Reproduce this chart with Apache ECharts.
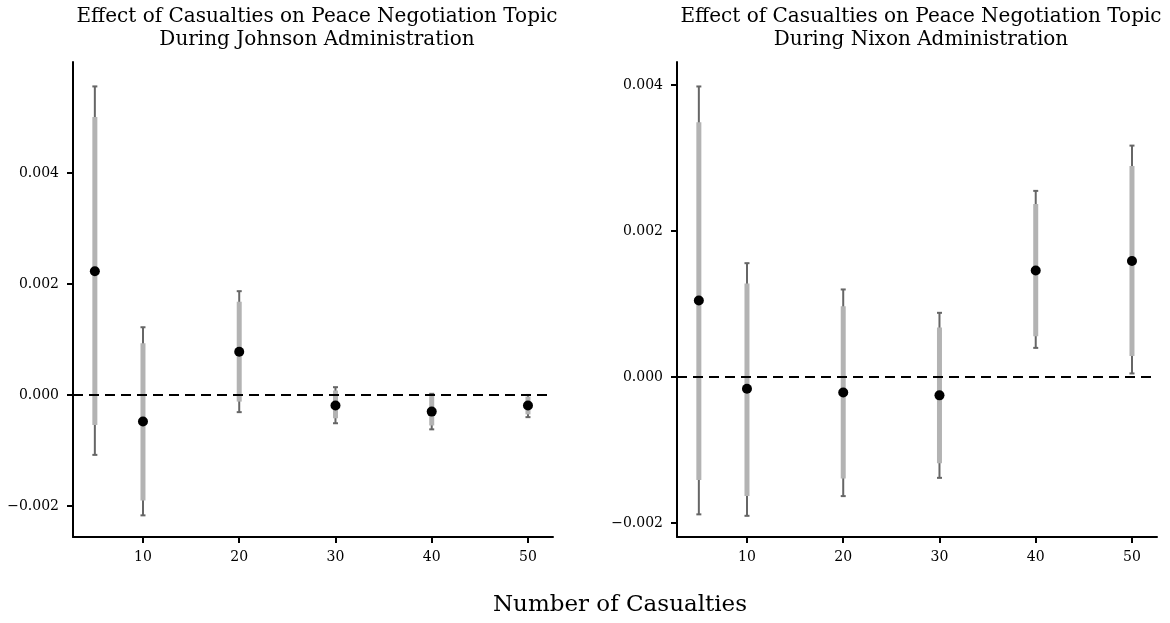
<!DOCTYPE html>
<html>
<head>
<meta charset="utf-8">
<script src="https://cdn.jsdelivr.net/npm/echarts@6/dist/echarts.min.js"></script>
<style>
html,body{margin:0;padding:0;background:#fff;}
#chart{width:1170px;height:623px;}
</style>
</head>
<body>
<div id="chart"></div>
<script>
// ---- data ----
const casualties = [5, 10, 20, 30, 40, 50];
const xTicks = [10, 20, 30, 40, 50];

// Johnson administration
const johnsonEst  = [0.00223, -0.00048, 0.00078, -0.00019, -0.00030, -0.00019];
const johnsonLo95 = [-0.00108, -0.00217, -0.00031, -0.00051, -0.00062, -0.00040];
const johnsonHi95 = [0.00556, 0.00122, 0.00187, 0.00014, 0.00002, 0.00000];
const johnsonLo90 = [-0.00054, -0.00190, -0.00012, -0.00042, -0.00055, -0.00035];
const johnsonHi90 = [0.00501, 0.00093, 0.00168, 0.00008, -0.00002, -0.00003];
const johnsonYTicks = [-0.002, 0.000, 0.002, 0.004];

// Nixon administration
const nixonEst  = [0.00105, -0.00016, -0.00021, -0.00025, 0.00146, 0.00159];
const nixonLo95 = [-0.00188, -0.00190, -0.00163, -0.00138, 0.00040, 0.00005];
const nixonHi95 = [0.00398, 0.00156, 0.00120, 0.00088, 0.00255, 0.00317];
const nixonLo90 = [-0.00141, -0.00163, -0.00139, -0.00118, 0.00056, 0.00029];
const nixonHi90 = [0.00349, 0.00128, 0.00097, 0.00068, 0.00237, 0.00289];
const nixonYTicks = [-0.002, 0.000, 0.002, 0.004];

const titleLeft = "Effect of Casualties on Peace Negotiation Topic\nDuring Johnson Administration";
const titleRight = "Effect of Casualties on Peace Negotiation Topic\nDuring Nixon Administration";
const xLabel = "Number of Casualties";

// ---- chart ----
const FONT = "DejaVu Serif";
const chart = echarts.init(document.getElementById('chart'), null, {renderer: 'canvas'});

function fmtY(v) {
  const s = Math.abs(v).toFixed(3);
  return (v < -1e-12 ? '\u2212' : '') + s;
}

function ranges(lo, hi) {
  return casualties.map((x, i) => [x, lo[i], hi[i]]);
}

function barRender(width, color, cap) {
  return function (params, api) {
    const x = api.value(0);
    const p1 = api.coord([x, api.value(1)]);
    const p2 = api.coord([x, api.value(2)]);
    const style = {stroke: color, lineWidth: width};
    const children = [{type: 'line', shape: {x1: p1[0], y1: p1[1], x2: p2[0], y2: p2[1]}, style: style}];
    if (cap) {
      children.push({type: 'line', shape: {x1: p1[0] - cap, y1: p1[1], x2: p1[0] + cap, y2: p1[1]}, style: style});
      children.push({type: 'line', shape: {x1: p2[0] - cap, y1: p2[1], x2: p2[0] + cap, y2: p2[1]}, style: style});
    }
    return {type: 'group', children: children};
  };
}

function xAxis(gi) {
  return {
    type: 'value', gridIndex: gi, min: 2.73, max: 52.6,
    splitLine: {show: false},
    axisLine: {show: true, onZero: false, lineStyle: {color: '#000', width: 2}},
    axisTick: {show: true, length: 6, lineStyle: {color: '#000', width: 2}, customValues: xTicks},
    axisLabel: {show: true, margin: 13, color: '#000', fontFamily: FONT, fontSize: 14, customValues: xTicks,
      formatter: v => String(v)}
  };
}

function yAxis(gi, min, max, ticks) {
  return {
    type: 'value', gridIndex: gi, min: min, max: max,
    splitLine: {show: false},
    axisLine: {show: true, onZero: false, lineStyle: {color: '#000', width: 2}},
    axisTick: {show: true, length: 6, lineStyle: {color: '#000', width: 2}, customValues: ticks},
    axisLabel: {show: true, margin: 14, color: '#000', fontFamily: FONT, fontSize: 14, customValues: ticks,
      formatter: fmtY}
  };
}

function panelSeries(gi, est, lo95, hi95, lo90, hi90) {
  return [
    {
      type: 'custom', xAxisIndex: gi, yAxisIndex: gi, z: 3,
      renderItem: barRender(2, '#666666', 2.5),
      data: ranges(lo95, hi95),
      markLine: {
        silent: true, symbol: 'none', label: {show: false},
        lineStyle: {color: '#000', width: 2, type: [10, 6]},
        data: [{yAxis: 0}]
      }
    },
    {
      type: 'custom', xAxisIndex: gi, yAxisIndex: gi, z: 4,
      renderItem: barRender(5, '#b3b3b3', 0),
      data: ranges(lo90, hi90)
    },
    {
      type: 'scatter', xAxisIndex: gi, yAxisIndex: gi, z: 5,
      symbol: 'circle', symbolSize: 10,
      itemStyle: {color: '#000', opacity: 1},
      data: casualties.map((x, i) => [x, est[i]])
    }
  ];
}

const option = {
  backgroundColor: '#fff',
  animation: false,
  title: [
    {text: titleLeft, left: 312, top: 0, textAlign: 'center',
      textStyle: {fontFamily: FONT, fontSize: 20, fontWeight: 'normal', color: '#000', lineHeight: 23}},
    {text: titleRight, left: 916, top: 0, textAlign: 'center',
      textStyle: {fontFamily: FONT, fontSize: 20, fontWeight: 'normal', color: '#000', lineHeight: 23}},
    {text: xLabel, left: 615, top: 589, textAlign: 'center',
      textStyle: {fontFamily: FONT, fontSize: 23, fontWeight: 'normal', color: '#000'}}
  ],
  grid: [
    {left: 73, right: 617, top: 62, bottom: 86},
    {left: 677, right: 13, top: 62, bottom: 86}
  ],
  xAxis: [xAxis(0), xAxis(1)],
  yAxis: [
    yAxis(0, -0.00256, 0.006, johnsonYTicks),
    yAxis(1, -0.00219, 0.004315, nixonYTicks)
  ],
  series: [].concat(
    panelSeries(0, johnsonEst, johnsonLo95, johnsonHi95, johnsonLo90, johnsonHi90),
    panelSeries(1, nixonEst, nixonLo95, nixonHi95, nixonLo90, nixonHi90)
  )
};
chart.setOption(option);
</script>
</body>
</html>
